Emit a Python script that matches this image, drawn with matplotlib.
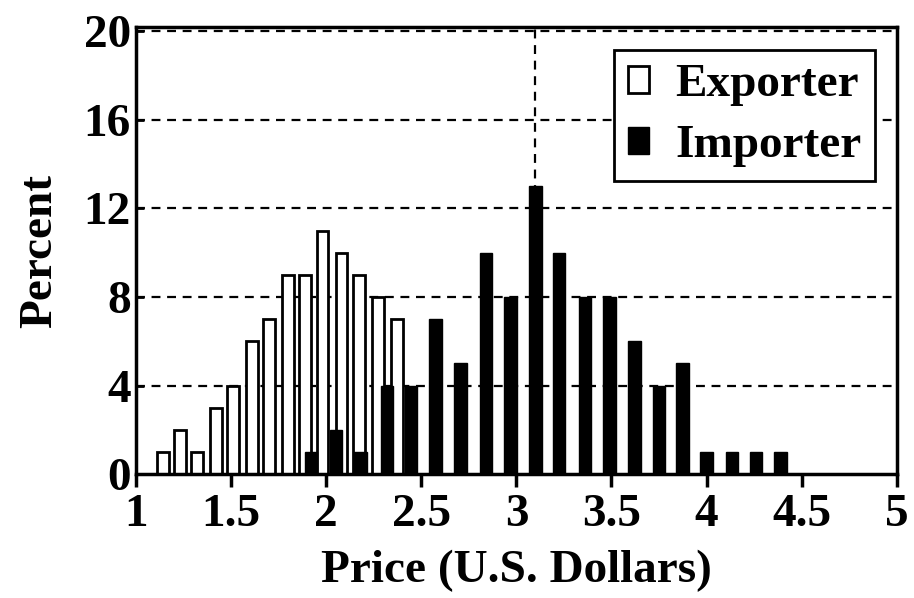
import numpy as np
import matplotlib.pyplot as plt

# datos
exp_x = [1.14, 1.23, 1.32, 1.42, 1.51, 1.61, 1.70, 1.80, 1.89, 1.98, 2.08, 2.17, 2.27, 2.37]
exp_pct = [1, 2, 1, 3, 4, 6, 7, 9, 9, 11, 10, 9, 8, 7]

imp_x = [1.92, 2.05, 2.18, 2.32, 2.445, 2.575, 2.705, 2.84, 2.97, 3.10,
         3.225, 3.36, 3.49, 3.62, 3.75, 3.875, 4.00, 4.135, 4.26, 4.39]
imp_pct = [1, 2, 1, 4, 4, 7, 5, 10, 8, 13, 10, 8, 8, 6, 4, 5, 1, 1, 1, 1]

x_ticks = [1, 1.5, 2, 2.5, 3, 3.5, 4, 4.5, 5]
x_labels = ['1', '1.5', '2', '2.5', '3', '3.5', '4', '4.5', '5']
y_ticks = [0, 4, 8, 12, 16, 20]

plt.rcParams['font.family'] = ['Liberation Serif', 'DejaVu Serif']
plt.rcParams['font.weight'] = 'bold'

fig = plt.figure(figsize=(9.14, 5.98), dpi=100)
ax = fig.add_axes([0.149, 0.207, 0.832, 0.748])

# lineas de referencia discontinuas
for y in y_ticks[1:]:
    ax.axhline(y, color='black', lw=1.6, ls=(0, (4, 3)), zorder=0)
peak = imp_x[int(np.argmax(imp_pct))]
ax.axvline(peak, color='black', lw=1.6, ls=(0, (4, 3)), zorder=0)

ax.bar(exp_x, exp_pct, width=0.062, color='white', edgecolor='black',
       linewidth=2, label='Exporter', zorder=2)
ax.bar(imp_x, imp_pct, width=0.066, color='black', edgecolor='black',
       linewidth=1, label='Importer', zorder=3)

ax.set_xlim(1, 5)
ax.set_ylim(0, 20.2)
ax.set_xticks(x_ticks)
ax.set_xticklabels(x_labels)
ax.set_yticks(y_ticks)
ax.tick_params(axis='x', direction='out', length=9, width=2.5, labelsize=34, pad=5)
ax.tick_params(axis='y', direction='in', length=6, width=2, labelsize=34, pad=4)
for s in ax.spines.values():
    s.set_linewidth(2.5)

ax.set_xlabel('Price (U.S. Dollars)', fontsize=34, fontweight='bold', labelpad=10)
ax.set_ylabel('Percent', fontsize=34, fontweight='bold', labelpad=16)

leg = ax.legend(loc='upper right', bbox_to_anchor=(0.972, 0.948), fontsize=34,
                frameon=True, fancybox=False, handlelength=0.45, handleheight=0.5,
                handletextpad=0.55, borderpad=0.3, labelspacing=0.4,
                borderaxespad=0)
leg.get_frame().set_edgecolor('black')
leg.get_frame().set_linewidth(2)
leg.get_frame().set_alpha(1)

plt.savefig('out.png', dpi=100)
